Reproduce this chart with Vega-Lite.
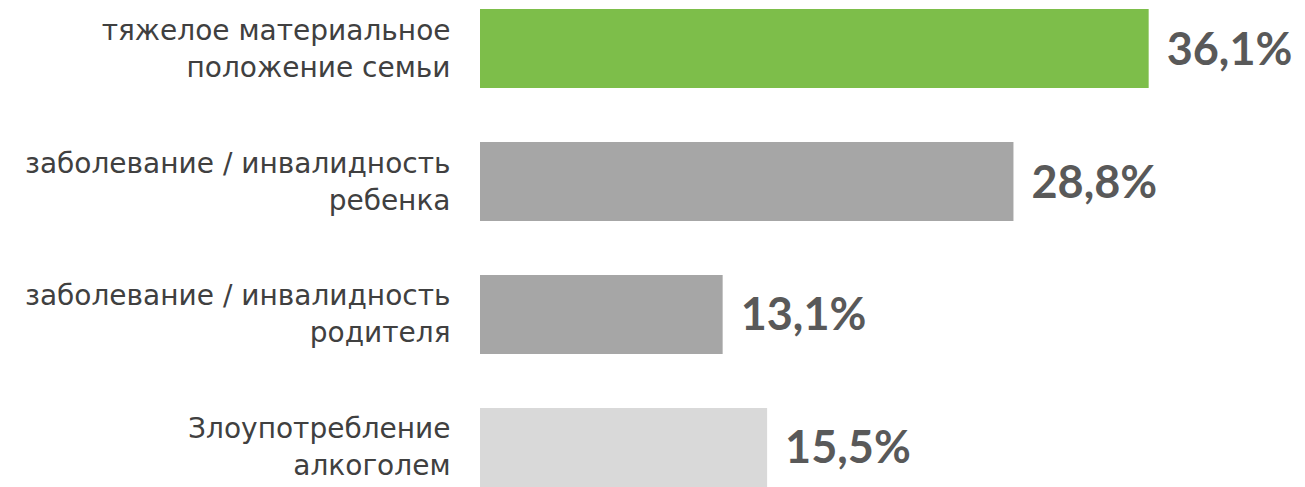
{
  "$schema": "https://vega.github.io/schema/vega-lite/v6.json",
  "width": 815,
  "height": 478,
  "autosize": {"type": "none"},
  "padding": {"left": 480, "top": 9, "right": 10, "bottom": 0},
  "background": "white",
  "config": {"view": {"stroke": null}},
  "data": {
    "values": [
      {"cause": "тяжелое материальное\nположение семьи", "value": 36.1, "label": "36,1%"},
      {"cause": "заболевание / инвалидность\nребенка", "value": 28.8, "label": "28,8%"},
      {"cause": "заболевание / инвалидность\u2002\nродителя\u2002", "value": 13.1, "label": "13,1%"},
      {"cause": "Злоупотребление\nалкоголем", "value": 15.5, "label": "15,5%"}
    ]
  },
  "encoding": {
    "y": {
      "field": "cause",
      "type": "nominal",
      "sort": null,
      "scale": {"paddingInner": 0.406, "paddingOuter": 0},
      "axis": {
        "title": null,
        "ticks": false,
        "domain": false,
        "labelExpr": "split(datum.label, '\\n')",
        "labelFont": "DejaVu Sans",
        "labelFontSize": 28,
        "labelColor": "#404040",
        "labelPadding": 30,
        "labelLineHeight": 37,
        "labelOffset": -17,
        "labelAlign": "right",
        "labelBaseline": "middle",
        "labelLimit": 0
      }
    },
    "x": {
      "field": "value",
      "type": "quantitative",
      "scale": {"domain": [0, 44]},
      "axis": null
    }
  },
  "layer": [
    {
      "mark": {"type": "bar"},
      "encoding": {
        "color": {
          "field": "cause",
          "type": "nominal",
          "sort": null,
          "scale": {"range": ["#7DBE4A", "#A6A6A6", "#A6A6A6", "#D9D9D9"]},
          "legend": null
        }
      }
    },
    {
      "mark": {
        "type": "text",
        "align": "left",
        "baseline": "middle",
        "dx": 18,
        "dy": 2,
        "font": "Lato",
        "fontWeight": "bold",
        "fontSize": 45,
        "color": "#595959"
      },
      "encoding": {"text": {"field": "label"}}
    }
  ]
}
